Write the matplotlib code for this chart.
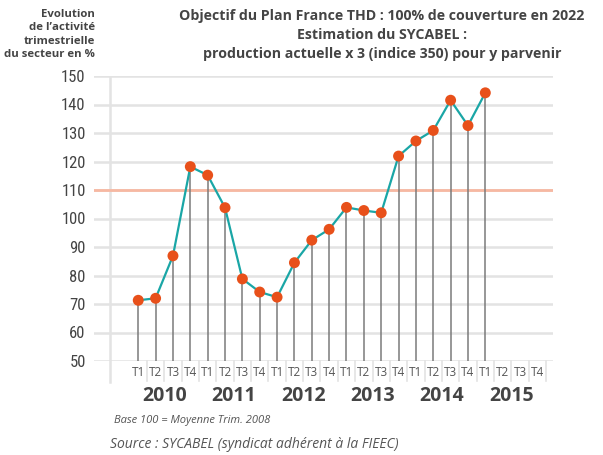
import numpy as np
import matplotlib
matplotlib.use("Agg")
import matplotlib.pyplot as plt
from matplotlib import font_manager

# quarterly index values, base 100 = average quarter 2008
years = ["2010", "2011", "2012", "2013", "2014", "2015"]
quarters = ["T1", "T2", "T3", "T4"]
values = [71.3, 72.0, 86.9, 118.2,
          115.2, 103.8, 78.8, 74.2,
          72.4, 84.5, 92.4, 96.2,
          103.9, 102.8, 102.0, 121.9,
          127.2, 130.9, 141.5, 132.6,
          144.1]
threshold = 110
y_ticks = list(range(50, 151, 10))

installed = {f.name for f in font_manager.fontManager.ttflist}
narrow = "Roboto"
for cand in ["Liberation Sans Narrow", "Roboto Condensed", "Open Sans Condensed"]:
    if cand in installed:
        narrow = cand
        break
sans = "Open Sans" if "Open Sans" in installed else "DejaVu Sans"

grid_c = "#e3e3e3"
text_c = "#444444"
line_c = "#1aa6a6"
dot_c = "#e8501a"

fig = plt.figure(figsize=(6.03, 4.55), dpi=100)
ax = fig.add_axes([94 / 603, 1 - 361 / 455, (553 - 94) / 603, (361 - 76) / 455])

n_slots = len(years) * len(quarters)
x = np.arange(len(values))

ax.set_xlim(-2.55, 23.9)
ax.set_ylim(50, 150)

for yv in y_ticks:
    ax.axhline(yv, color=grid_c, lw=1.8, zorder=0)
ax.axhline(threshold, color="#f7b8a2", lw=2, zorder=1)
ax.axvline(-1.62, color=grid_c, lw=1.8, zorder=0)

ax.vlines(x, 50, values, color="#7a7a7a", lw=1.1, zorder=2)
ax.plot(x, values, color=line_c, lw=1.6, zorder=3)
ax.scatter(x, values, s=62, color=dot_c, edgecolor="none", zorder=4)

ax.set_yticks(y_ticks)
ax.set_yticklabels([str(v) for v in y_ticks], fontsize=12, family=narrow,
                   fontstretch="condensed", color=text_c)
ax.tick_params(axis="y", length=0, pad=6)
ax.set_xticks([])
for s in ax.spines.values():
    s.set_visible(False)

# quarter labels with light separators under the axis
trans = ax.get_xaxis_transform()
for i in range(n_slots):
    ax.text(i, -0.018, quarters[i % 4], transform=trans, ha="center", va="top",
            fontsize=8.5, family=sans, color="#555555", clip_on=False)
    ax.plot([i + 0.5, i + 0.5], [0, -0.07], transform=trans, color=grid_c,
            lw=1.2, clip_on=False)
ax.plot([-1.62, -1.62], [0, -0.075], transform=trans, color=grid_c, lw=1.8, clip_on=False)
for k, yr in enumerate(years):
    ax.text(4 * k + 1.5, -0.088, yr, transform=trans, ha="center", va="top",
            fontsize=14, fontweight="bold", family=sans, color=text_c, clip_on=False)

fig.text(382 / 603, 1 - 9 / 455,
         "Objectif du Plan France THD : 100% de couverture en 2022\n"
         "Estimation du SYCABEL :\n"
         "production actuelle x 3 (indice 350) pour y parvenir",
         ha="center", va="top", fontsize=10.2, fontweight="bold", family=sans,
         color=text_c, linespacing=1.45)
fig.text(95 / 603, 1 - 9 / 455,
         "Evolution\nde l\u2019activit\u00e9\ntrimestrielle\ndu secteur en %",
         ha="right", va="top", fontsize=8.2, fontweight="bold", family=sans,
         color=text_c, linespacing=1.3)

fig.text(114 / 603, 1 - 420 / 455, "Base 100 = Moyenne Trim. 2008",
         ha="left", va="center", fontsize=8, style="italic", family=sans, color="#555555")
fig.text(110 / 603, 1 - 445 / 455, "Source : SYCABEL (syndicat adh\u00e9rent \u00e0 la FIEEC)",
         ha="left", va="center", fontsize=10, style="italic", family=sans, color="#555555")

fig.savefig("out.png", dpi=100, facecolor="white")
